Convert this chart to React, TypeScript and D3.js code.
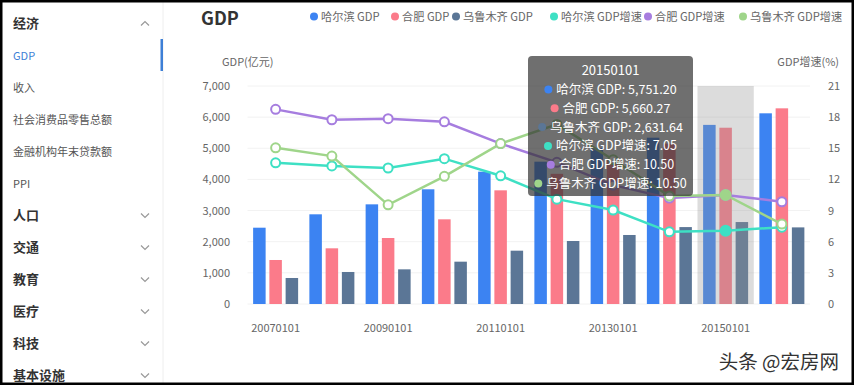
import { scaleBand, scaleLinear, line, format } from "d3";
import { useLayoutEffect, useRef, useState } from "react";

// ---- data ----
const years = ["20070101", "20080101", "20090101", "20100101", "20110101", "20120101", "20130101", "20140101", "20150101", "20160101"];
const harbinGdp = [2450, 2880, 3200, 3683, 4249, 4570, 5010, 5340, 5751.2, 6123];
const hefeiGdp = [1413, 1788, 2119, 2719, 3650, 4180, 4650, 5150, 5660.27, 6283];
const urumqiGdp = [835, 1028, 1113, 1359, 1712, 2023, 2216, 2470, 2631.64, 2460];
const harbinGrowth = [13.6, 13.3, 13.1, 14.0, 12.35, 10.1, 9.05, 6.95, 7.05, 7.4];
const hefeiGrowth = [18.75, 17.75, 17.85, 17.55, 15.45, 13.65, 11.45, 10.2, 10.5, 9.85];
const urumqiGrowth = [15.05, 14.25, 9.55, 12.3, 15.45, 17.3, 13.9, 10.4, 10.5, 7.7];

const leftTicks = [0, 1000, 2000, 3000, 4000, 5000, 6000, 7000];
const rightTicks = [0, 3, 6, 9, 12, 15, 18, 21];

const menu: { label: string; kind: "group" | "item" | "active"; open?: boolean }[] = [
  { label: "经济", kind: "group", open: true },
  { label: "GDP", kind: "active" },
  { label: "收入", kind: "item" },
  { label: "社会消费品零售总额", kind: "item" },
  { label: "金融机构年末贷款额", kind: "item" },
  { label: "PPI", kind: "item" },
  { label: "人口", kind: "group" },
  { label: "交通", kind: "group" },
  { label: "教育", kind: "group" },
  { label: "医疗", kind: "group" },
  { label: "科技", kind: "group" },
  { label: "基本设施", kind: "group" },
];

const barSeries = [
  { name: "哈尔滨 GDP", values: harbinGdp, color: "#3c83f2" },
  { name: "合肥 GDP", values: hefeiGdp, color: "#fb7b8a" },
  { name: "乌鲁木齐 GDP", values: urumqiGdp, color: "#5b7696" },
];
const lineSeries = [
  { name: "哈尔滨 GDP增速", values: harbinGrowth, color: "#3ee0c4" },
  { name: "合肥 GDP增速", values: hefeiGrowth, color: "#a67ddf" },
  { name: "乌鲁木齐 GDP增速", values: urumqiGrowth, color: "#9fd58a" },
];
const legendX = [314, 395, 456, 554, 648, 743];
const hoverIndex = 8;

const FONT = "'Noto Sans CJK SC', 'Noto Sans', sans-serif";

export default function App() {
  const width = 854;
  const height = 385;
  const plot = { left: 247.5, right: 810, top: 86, bottom: 304 };

  const x = scaleBand().domain(years).range([plot.left, plot.right]).paddingInner(0).paddingOuter(0);
  const yL = scaleLinear().domain([0, 7000]).range([plot.bottom, plot.top]);
  const yR = scaleLinear().domain([0, 21]).range([plot.bottom, plot.top]);
  const bw = x.bandwidth();
  const groupW = bw * 0.8;
  const barW = groupW / 3.6;
  const barGap = barW * 0.3;

  const lineGen = line<number>()
    .x((_, i) => (x(years[i]) ?? 0) + bw / 2)
    .y((d) => yR(d));

  // tooltip rows for the hovered year
  const fmtGdp = format(",.2f");
  const fmtPct = format(".2f");
  const tipRows = [
    ...barSeries.map((s) => ({ color: s.color, text: `${s.name}: ${fmtGdp(s.values[hoverIndex])}` })),
    ...lineSeries.map((s) => ({ color: s.color, text: `${s.name}: ${fmtPct(s.values[hoverIndex])}` })),
  ];
  const textRefs = useRef<(SVGTextElement | null)[]>([]);
  const [widths, setWidths] = useState<number[]>(tipRows.map(() => 120));
  useLayoutEffect(() => {
    setWidths(textRefs.current.map((t) => (t ? t.getComputedTextLength() : 120)));
  }, []);

  const tip = { x: 528, y: 56, w: 165, h: 140 };
  const tipCx = tip.x + tip.w / 2;

  return (
    <div style={{ position: "absolute", left: 0, top: 0 }}>
      <svg width={width} height={height} style={{ display: "block", fontFamily: FONT }}>
        <rect x={0} y={0} width={width} height={height} fill="#fff" />

        {/* sidebar */}
        <line x1={163} x2={163} y1={0} y2={height} stroke="#eeeeee" />
        <rect x={160.5} y={39} width={2.5} height={32} fill="#3d7fd6" />
        {menu.map((m, i) => {
          const cy = 23.5 + i * 32;
          const isGroup = m.kind === "group";
          return (
            <g key={m.label}>
              <text
                x={13}
                y={cy + (isGroup ? 4.5 : 4)}
                fontSize={isGroup ? 13 : 11}
                fontWeight={isGroup ? 700 : 400}
                fill={m.kind === "active" ? "#3d7fd6" : isGroup ? "#333" : "#555"}
              >
                {m.label}
              </text>
              {isGroup ? (
                <path
                  d={m.open ? `M141,${cy + 2} l4,-4 l4,4` : `M141,${cy - 2} l4,4 l4,-4`}
                  fill="none"
                  stroke="#999"
                  strokeWidth={1.2}
                />
              ) : null}
            </g>
          );
        })}

        {/* title + legend */}
        <text x={201} y={25} fontSize={18} fontWeight={700} fill="#333">
          GDP
        </text>
        {[...barSeries, ...lineSeries].map((s, i) => (
          <g key={s.name}>
            <circle cx={legendX[i]} cy={16.5} r={4} fill={s.color} />
            <text x={legendX[i] + 7} y={20.5} fontSize={11.2} fill="#666">
              {s.name}
            </text>
          </g>
        ))}

        {/* axis names */}
        <text x={222} y={66} fontSize={11} fill="#666">
          GDP(亿元)
        </text>
        <text x={839} y={66} fontSize={11} fill="#666" textAnchor="end">
          GDP增速(%)
        </text>

        {/* grid + ticks */}
        {leftTicks.map((t) => (
          <g key={t}>
            <line x1={plot.left} x2={plot.right} y1={yL(t)} y2={yL(t)} stroke="#f2f2f2" />
            <text x={230} y={yL(t) + 4} fontSize={11} fill="#666" textAnchor="end">
              {format(",")(t)}
            </text>
          </g>
        ))}
        {rightTicks.map((t) => (
          <text key={t} x={828} y={yR(t) + 4} fontSize={11} fill="#666">
            {t}
          </text>
        ))}
        {years.map((yr, i) =>
          i % 2 === 0 ? (
            <text key={yr} x={(x(yr) ?? 0) + bw / 2} y={332} fontSize={11} fill="#666" textAnchor="middle">
              {yr}
            </text>
          ) : null,
        )}

        {/* bars */}
        {barSeries.map((s, si) =>
          s.values.map((v, i) => {
            const x0 = (x(years[i]) ?? 0) + (bw - groupW) / 2 + si * (barW + barGap);
            return <rect key={`${si}-${i}`} x={x0} y={yL(v)} width={barW} height={plot.bottom - yL(v)} fill={s.color} />;
          }),
        )}

        {/* hover band */}
        <rect
          x={x(years[hoverIndex])}
          y={plot.top}
          width={bw}
          height={plot.bottom - plot.top}
          fill="rgb(150,150,150)"
          opacity={0.33}
        />

        {/* lines */}
        {lineSeries.map((s) => (
          <path key={s.name} d={lineGen(s.values) ?? ""} fill="none" stroke={s.color} strokeWidth={2.5} />
        ))}
        {lineSeries.map((s) =>
          s.values.map((v, i) => (
            <circle
              key={`${s.name}-${i}`}
              cx={(x(years[i]) ?? 0) + bw / 2}
              cy={yR(v)}
              r={i === hoverIndex ? 5 : 4.5}
              fill={i === hoverIndex ? s.color : "#fff"}
              stroke={s.color}
              strokeWidth={2}
            />
          )),
        )}

        {/* tooltip */}
        <rect x={tip.x} y={tip.y} width={tip.w} height={tip.h} rx={4} fill="rgba(50,50,50,0.7)" />
        <text x={tipCx} y={75} fontSize={13} fill="#fff" textAnchor="middle">
          {years[hoverIndex]}
        </text>
        {tipRows.map((r, i) => {
          const w = widths[i] ?? 120;
          const start = tipCx - (w + 12) / 2;
          const cy = 89.5 + i * 18.8;
          return (
            <g key={r.text}>
              <circle cx={start + 4} cy={cy} r={4} fill={r.color} />
              <text
                ref={(el) => {
                  textRefs.current[i] = el;
                }}
                x={start + 12}
                y={cy + 4.5}
                fontSize={12.5}
                fill="#fff"
              >
                {r.text}
              </text>
            </g>
          );
        })}

        {/* watermark */}
        <text
          x={839}
          y={369}
          fontSize={19.5}
          fill="#333"
          textAnchor="end"
          stroke="#fff"
          strokeWidth={3}
          paintOrder="stroke"
        >
          头条 @宏房网
        </text>

        {/* frame */}
        <rect x={0} y={0} width={width} height={height} fill="none" stroke="#000" strokeWidth={5} />
      </svg>
    </div>
  );
}
